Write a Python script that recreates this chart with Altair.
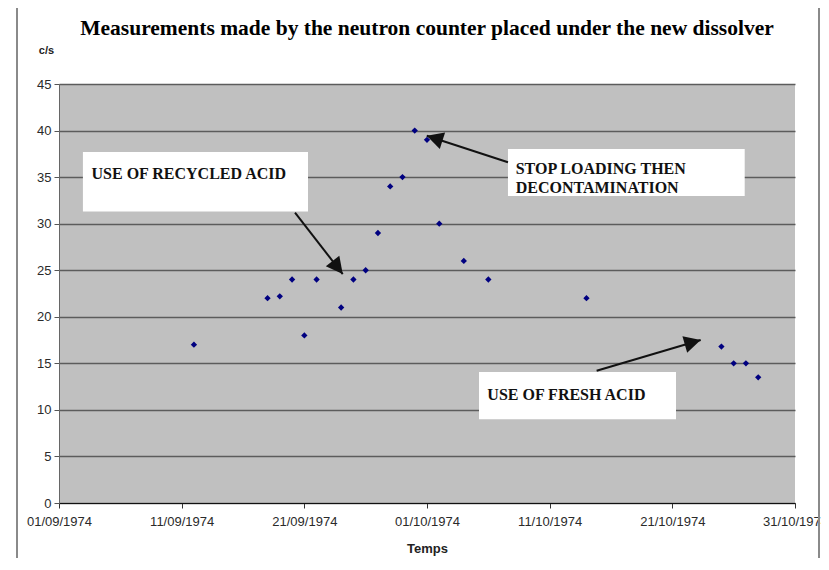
import altair as alt
import pandas as pd
from datetime import datetime, timedelta

# ---- measured data ----
dates = ["1974-09-12", "1974-09-18", "1974-09-19", "1974-09-20", "1974-09-21",
         "1974-09-22", "1974-09-24", "1974-09-25", "1974-09-26", "1974-09-27",
         "1974-09-28", "1974-09-29", "1974-09-30", "1974-10-01", "1974-10-02",
         "1974-10-04", "1974-10-06", "1974-10-14", "1974-10-25", "1974-10-26",
         "1974-10-27", "1974-10-28"]
values = [17, 22, 22.2, 24, 18, 24, 21, 24, 25, 29, 34, 35, 40, 39, 30, 26, 24,
          22, 16.8, 15, 15, 13.5]

tick_dates = ["1974-09-01", "1974-09-11", "1974-09-21", "1974-10-01",
              "1974-10-11", "1974-10-21", "1974-10-31"]
y_ticks = [0, 5, 10, 15, 20, 25, 30, 35, 40, 45]

# ---- annotations (day offsets from 01/09/1974, values in c/s) ----
note_texts = [["USE OF RECYCLED ACID"],
              ["STOP LOADING THEN", "DECONTAMINATION"],
              ["USE OF FRESH ACID"]]
note_day = [2.65, 37.23, 34.92]
note_val = [35.3, 35.82, 11.6]
box_day0 = [1.95, 36.60, 34.24]
box_day1 = [20.30, 55.9, 50.30]
box_val0 = [31.3, 32.98, 8.99]
box_val1 = [37.7, 38.03, 14.07]
arrow_day0 = [19.24, 36.60, 43.83]
arrow_val0 = [31.18, 36.59, 14.21]
arrow_day1 = [23.13, 29.98, 52.31]
arrow_val1 = [24.59, 39.45, 17.51]
arrow_angle = [142, 288, 74]

base = datetime(1974, 9, 1)


def iso(d):
    return (base + timedelta(days=d)).strftime("%Y-%m-%dT%H:%M:%SZ")


pts = pd.DataFrame({"date": [d + "T00:00:00Z" for d in dates], "cps": values})
boxes = pd.DataFrame({"x0": [iso(d) for d in box_day0], "x1": [iso(d) for d in box_day1],
                      "y0": box_val0, "y1": box_val1})
notes = pd.DataFrame({"x": [iso(d) for d in note_day], "y": note_val, "t": note_texts})
arrows = pd.DataFrame({"x0": [iso(d) for d in arrow_day0], "y0": arrow_val0,
                       "x1": [iso(d) for d in arrow_day1], "y1": arrow_val1,
                       "ang": arrow_angle})

tick_vals = [alt.DateTime(year=int(s[:4]), month=int(s[5:7]), date=int(s[8:]), utc=True)
             for s in tick_dates]

xscale = alt.Scale(type="utc", domain=[tick_vals[0], tick_vals[-1]])
yscale = alt.Scale(domain=[0, 45], nice=False)

xaxis = alt.Axis(values=tick_vals, format="%d/%m/%Y", grid=False,
                 labelFont="Liberation Sans", labelFontSize=13, labelColor="#2a2a2a",
                 labelPadding=7, tickSize=5, tickColor="#333", domainColor="#111",
                 domainWidth=1.2, labelFlush=False,
                 title="Temps", titleFont="Liberation Sans", titleFontSize=13,
                 titleFontWeight="bold", titleColor="#222", titleY=45,
                 titleBaseline="middle")
yaxis = alt.Axis(values=y_ticks, grid=True, gridColor="#5c5c5c", gridWidth=1.3,
                 labelFont="Liberation Sans", labelFontSize=13, labelColor="#2a2a2a",
                 labelPadding=3, tickSize=5, tickColor="#555", domainColor="#666",
                 title="c/s", titleAngle=0, titleX=-13, titleY=-34,
                 titleAlign="center", titleBaseline="middle",
                 titleFont="Liberation Sans", titleFontSize=11, titleFontWeight="bold",
                 titleColor="#222")

points = alt.Chart(pts).mark_point(shape="diamond", filled=True, color="#000080",
                                   size=40, opacity=1).encode(
    x=alt.X("date:T", scale=xscale, axis=xaxis),
    y=alt.Y("cps:Q", scale=yscale, axis=yaxis),
)

rects = alt.Chart(boxes).mark_rect(color="white").encode(
    x=alt.X("x0:T", scale=xscale), x2="x1:T",
    y=alt.Y("y0:Q", scale=yscale), y2="y1:Q")

texts = alt.Chart(notes).mark_text(align="left", baseline="middle",
                                   font="Liberation Serif", fontWeight="bold",
                                   fontSize=16, lineHeight=19, color="#111").encode(
    x=alt.X("x:T", scale=xscale), y=alt.Y("y:Q", scale=yscale), text="t")

shafts = alt.Chart(arrows).mark_rule(color="#111", strokeWidth=2).encode(
    x=alt.X("x0:T", scale=xscale), x2="x1:T",
    y=alt.Y("y0:Q", scale=yscale), y2="y1:Q")

heads = alt.Chart(arrows).mark_point(shape="M0,0L0.52,1L-0.52,1Z", filled=True,
                                     color="#111", size=1089, opacity=1).encode(
    x=alt.X("x1:T", scale=xscale), y=alt.Y("y1:Q", scale=yscale),
    angle=alt.Angle("ang:Q", scale=None))

one = pd.DataFrame({"k": [0]})
frame_left = alt.Chart(one).mark_rule(color="#8a8a8a", strokeWidth=2, clip=False).encode(
    x=alt.value(-42), y=alt.value(-76), y2=alt.value(474))
frame_right = alt.Chart(one).mark_rule(color="#8a8a8a", strokeWidth=2, clip=False).encode(
    x=alt.value(760), y=alt.value(-76), y2=alt.value(474))

chart = alt.layer(frame_left, frame_right, rects, shafts, heads, texts, points).properties(
    width=736, height=419,
    autosize=alt.AutoSizeParams(type="none"),
    padding={"left": 51, "top": 76, "right": 26, "bottom": 55},
    title=alt.TitleParams("Measurements made by the neutron counter placed under the new dissolver",
                          font="Liberation Serif", fontSize=21.5, fontWeight="bold",
                          color="#000", anchor="middle", frame="group",
                          offset=0, dy=43, baseline="middle"),
).configure_view(fill="#c0c0c0", strokeWidth=0)

chart.save("out.html", embed_options={"renderer": "svg", "actions": False})
